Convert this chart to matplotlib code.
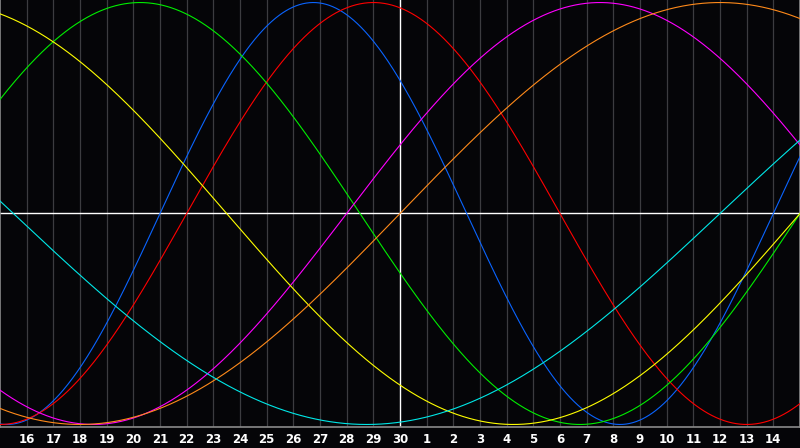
"""Biorhythm chart: seven cycles over a 30-day window centred on today."""

import matplotlib

matplotlib.use("Agg")
import matplotlib.pyplot as plt
import numpy as np

# days since birth at the left edge of the chart (read from the zero crossings)
DAYS_AT_START = 18417
WINDOW_DAYS = 30
TODAY_OFFSET = 15

CYCLE_NAMES = ["Physical", "Emotional", "Intellectual", "Intuitive",
               "Aesthetic", "Awareness", "Spiritual"]
CYCLE_PERIODS = [23, 28, 33, 38, 43, 48, 53]
CYCLE_COLORS = ["#0a64ff", "#ff0000", "#00ee00", "#ff00ff",
                "#ffff00", "#ff8a1a", "#00e8e8"]

DAY_LABELS = ["16", "17", "18", "19", "20", "21", "22", "23", "24", "25",
              "26", "27", "28", "29", "30", "1", "2", "3", "4", "5", "6",
              "7", "8", "9", "10", "11", "12", "13", "14"]

BACKGROUND = "#050508"
GRID_COLOR = "#3c3c40"
FRAME_COLOR = "#8a8a8a"


def main() -> None:
    fig = plt.figure(figsize=(8.0, 4.48), dpi=100, facecolor=BACKGROUND)
    ax = fig.add_axes([0.0, 1 - 427 / 448, 1.0, 427 / 448])
    ax.set_facecolor(BACKGROUND)

    t = np.linspace(0, WINDOW_DAYS, 1201)
    for period, color in zip(CYCLE_PERIODS, CYCLE_COLORS):
        values = np.sin(2 * np.pi * (DAYS_AT_START + t) / period)
        ax.plot(t, values, color=color, lw=0.8, zorder=3)

    # day grid
    ticks = np.arange(1, WINDOW_DAYS)
    for x in ticks:
        if x == TODAY_OFFSET:
            continue
        ax.axvline(x, color=GRID_COLOR, lw=0.9, zorder=1)
    ax.axvline(TODAY_OFFSET, color="white", lw=1.0, zorder=2)
    ax.axhline(0, color="white", lw=1.0, zorder=2)

    ax.set_xlim(0, WINDOW_DAYS)
    ax.set_ylim(-1.012, 1.012)
    ax.set_xticks(ticks)
    ax.set_xticklabels(DAY_LABELS)
    ax.set_yticks([])
    ax.tick_params(axis="x", length=0, pad=4, colors="white",
                   labelsize=8.5)
    for label in ax.get_xticklabels():
        label.set_fontweight("bold")

    ax.spines["top"].set_visible(False)
    for side in ("left", "right", "bottom"):
        ax.spines[side].set_color(FRAME_COLOR)
        ax.spines[side].set_linewidth(1.2)

    fig.savefig("out.png", dpi=100, facecolor=BACKGROUND)
    plt.close(fig)


if __name__ == "__main__":
    main()
